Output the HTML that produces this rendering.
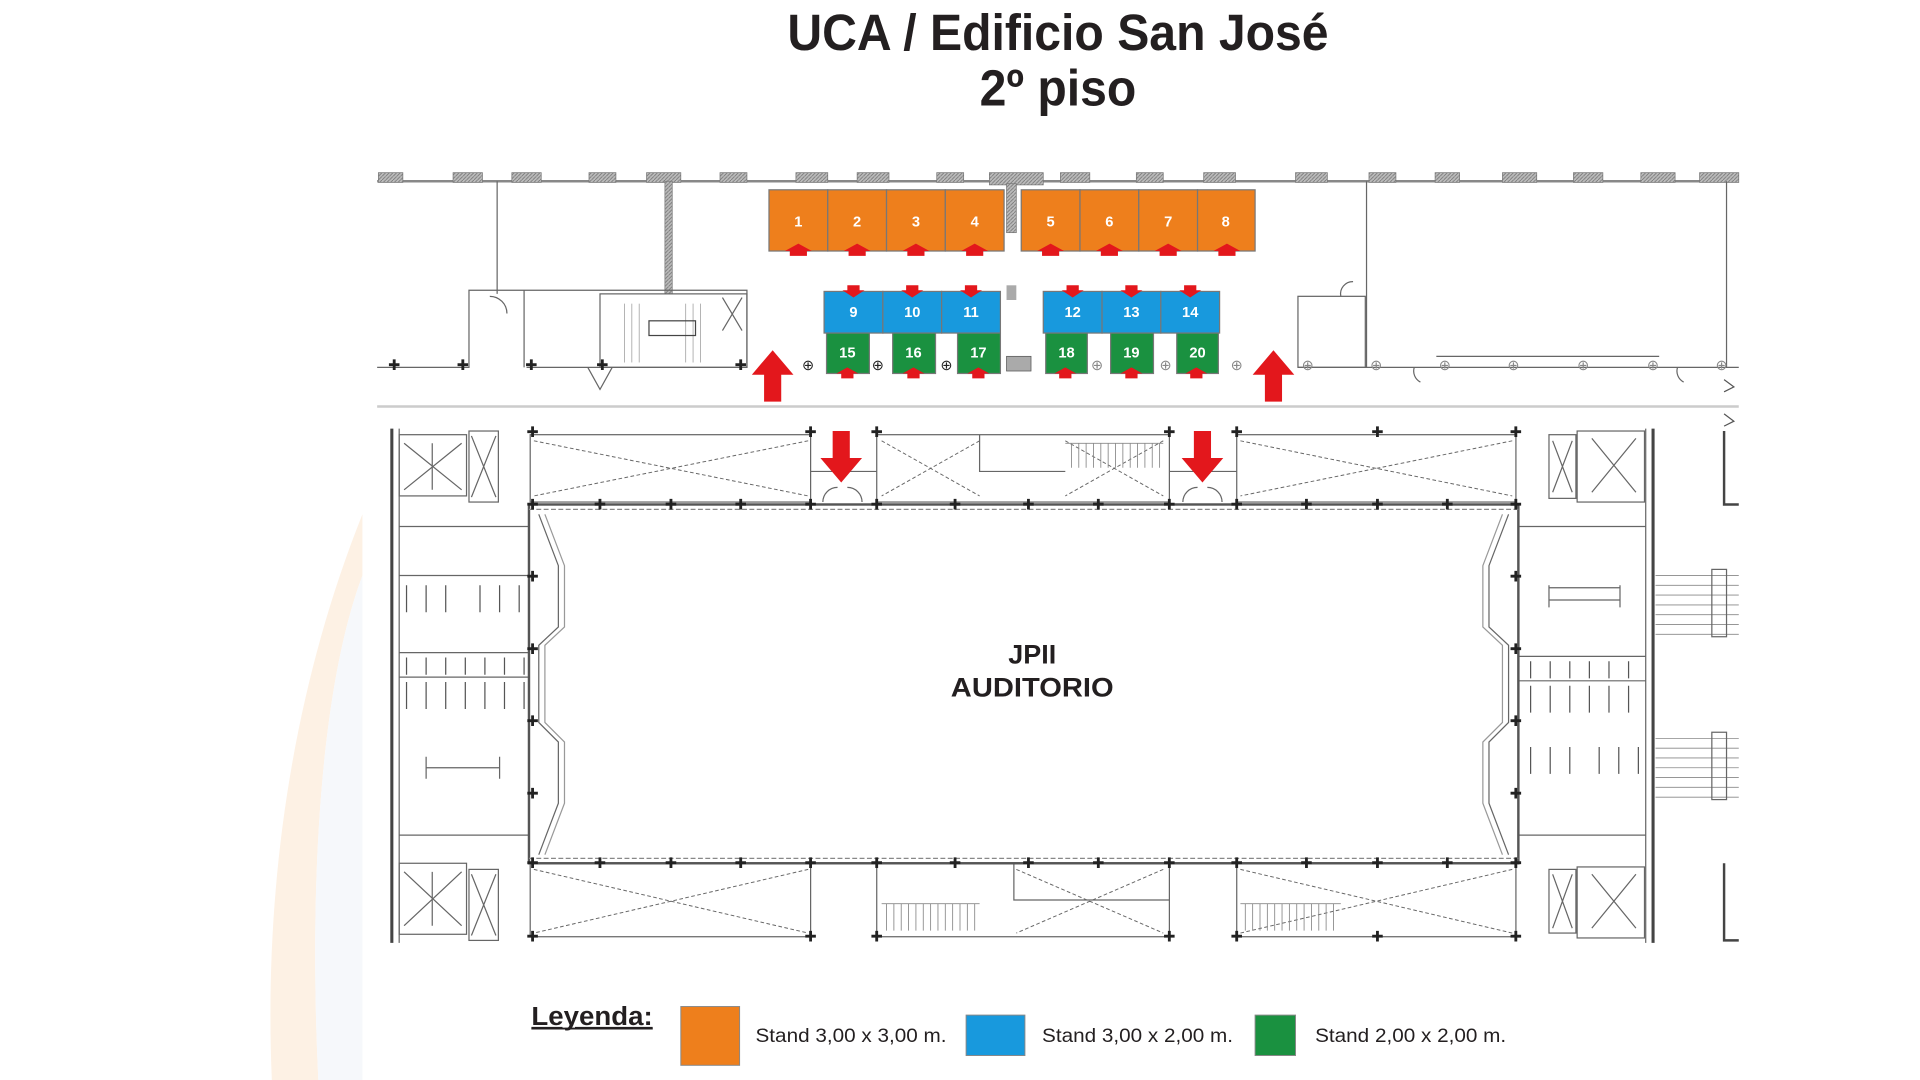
<!DOCTYPE html>
<html><head><meta charset="utf-8"><style>
html,body{margin:0;padding:0;background:#fff;}
svg{display:block}
text{font-family:"Liberation Sans",Arial,sans-serif}
</style></head><body>
<svg width="1920" height="1080" viewBox="0 0 1568 882" xmlns="http://www.w3.org/2000/svg">
<defs>
<pattern id="h" width="3" height="3" patternUnits="userSpaceOnUse"><rect width="3" height="3" fill="#bbb"/><path d="M0,3L3,0" stroke="#777" stroke-width="0.7"/></pattern>
</defs>
<rect width="1568" height="882" fill="#fff"/>
<!-- faint background arcs -->
<path d="M296,420 C240,560 215,720 222,882 L260,882 C252,720 262,560 296,470 Z" fill="#fdf1e4"/>
<path d="M296,470 C262,560 252,720 260,882 L296,882 Z" fill="#f6f8fb"/>
<rect x="296" y="0" width="1132" height="882" fill="#fff"/>

<!-- Title -->
<text x="864" y="41" font-size="42" font-weight="bold" text-anchor="middle" fill="#231f20" textLength="442" lengthAdjust="spacingAndGlyphs">UCA / Edificio San José</text>
<text x="864" y="86" font-size="42" font-weight="bold" text-anchor="middle" fill="#231f20" textLength="128" lengthAdjust="spacingAndGlyphs">2º piso</text>

<g stroke="#666" fill="none" stroke-width="1">
<!-- top wall -->
<line x1="308" y1="148" x2="1420" y2="148" stroke-width="2" stroke="#888"/>
<g fill="url(#h)" stroke="#777" stroke-width="0.6">
<rect x="309" y="141" width="20" height="8"/><rect x="370" y="141" width="24" height="8"/><rect x="418" y="141" width="24" height="8"/><rect x="481" y="141" width="22" height="8"/><rect x="528" y="141" width="28" height="8"/><rect x="588" y="141" width="22" height="8"/><rect x="650" y="141" width="26" height="8"/><rect x="700" y="141" width="26" height="8"/><rect x="765" y="141" width="22" height="8"/><rect x="808" y="141" width="44" height="10"/><rect x="866" y="141" width="24" height="8"/><rect x="928" y="141" width="22" height="8"/><rect x="983" y="141" width="26" height="8"/><rect x="1058" y="141" width="26" height="8"/><rect x="1118" y="141" width="22" height="8"/><rect x="1172" y="141" width="20" height="8"/><rect x="1227" y="141" width="28" height="8"/><rect x="1285" y="141" width="24" height="8"/><rect x="1340" y="141" width="28" height="8"/><rect x="1388" y="141" width="32" height="8"/>
<rect x="543" y="148" width="6" height="92"/><rect x="822" y="150" width="8" height="40"/>
</g>
<!-- upper left rooms -->
<line x1="406" y1="148" x2="406" y2="240"/>
<polyline points="308,300 383,300 383,237 610,237 610,300 430,300"/>
<line x1="428" y1="237" x2="428" y2="300"/>
<rect x="490" y="240" width="120" height="60"/>
<g stroke="#999" stroke-width="0.6"><line x1="510" y1="248" x2="510" y2="296"/><line x1="516" y1="248" x2="516" y2="296"/><line x1="522" y1="248" x2="522" y2="296"/><line x1="560" y1="248" x2="560" y2="296"/><line x1="566" y1="248" x2="566" y2="296"/><line x1="572" y1="248" x2="572" y2="296"/></g>
<rect x="530" y="262" width="38" height="12" stroke="#444"/>
<path d="M590,243 L606,270 M606,243 L590,270"/>
<path d="M400,242 A14,14 0 0 1 414,256"/><path d="M480,300 L490,318 L500,300"/>
<!-- upper right rooms -->
<rect x="1060" y="242" width="55" height="58"/>
<line x1="1116" y1="148" x2="1116" y2="300"/><line x1="1410" y1="148" x2="1410" y2="300"/>
<line x1="1060" y1="300" x2="1420" y2="300"/><line x1="1173" y1="291" x2="1355" y2="291"/>
<path d="M1095,242 A10,10 0 0 1 1105,230"/><path d="M1155,300 A10,10 0 0 0 1160,312"/><path d="M1370,300 A10,10 0 0 0 1375,312"/>
<!-- corridor -->
<line x1="308" y1="332" x2="1420" y2="332" stroke="#ccc" stroke-width="2"/>
<path d="M1408,310 L1416,316 L1408,320 M1408,338 L1416,344 L1408,348" stroke="#555"/>

<!-- lower left service block -->
<line x1="320" y1="350" x2="320" y2="770" stroke-width="2.5" stroke="#444"/>
<line x1="326" y1="350" x2="326" y2="770"/>
<rect x="326" y="355" width="55" height="50"/><path d="M330,362 L377,400 M377,362 L330,400 M353,362 V400"/>
<rect x="383" y="352" width="24" height="58"/><path d="M385,356 L405,406 M405,356 L385,406"/>
<rect x="326" y="705" width="55" height="58"/><path d="M330,712 L377,756 M377,712 L330,756 M353,712 V756"/>
<rect x="383" y="710" width="24" height="58"/><path d="M385,714 L405,764 M405,714 L385,764"/>
<line x1="326" y1="430" x2="432" y2="430"/><line x1="326" y1="682" x2="432" y2="682"/>
<line x1="326" y1="470" x2="432" y2="470"/><line x1="326" y1="533" x2="432" y2="533"/><line x1="326" y1="553" x2="432" y2="553"/>
<g stroke="#555"><path d="M332,478 v22 M348,478 v22 M364,478 v22 M392,478 v22 M408,478 v22 M424,478 v22 M332,537 v14 M348,537 v14 M364,537 v14 M380,537 v14 M396,537 v14 M412,537 v14 M428,537 v14 M332,557 v22 M348,557 v22 M364,557 v22 M380,557 v22 M396,557 v22 M412,557 v22 M428,557 v22"/></g>
<path d="M348,627 H408 M348,618 v18 M408,618 v18"/>
<line x1="432" y1="470" x2="432" y2="595"/>
<!-- lower right service block -->
<line x1="1350" y1="350" x2="1350" y2="770" stroke-width="2.5" stroke="#444"/>
<line x1="1344" y1="350" x2="1344" y2="770"/>
<rect x="1288" y="352" width="55" height="58"/><path d="M1300,358 L1336,402 M1336,358 L1300,402"/>
<rect x="1265" y="355" width="22" height="52"/><path d="M1268,360 L1284,402 M1284,360 L1268,402"/>
<rect x="1288" y="708" width="55" height="58"/><path d="M1300,714 L1336,758 M1336,714 L1300,758"/>
<rect x="1265" y="710" width="22" height="52"/><path d="M1268,714 L1284,758 M1284,714 L1268,758"/>
<line x1="1240" y1="430" x2="1344" y2="430"/><line x1="1240" y1="682" x2="1344" y2="682"/>
<line x1="1240" y1="536" x2="1344" y2="536"/><line x1="1240" y1="556" x2="1344" y2="556"/>
<path d="M1265,480 H1323 M1265,490 H1323 M1265,478 v18 M1323,478 v18"/>
<g stroke="#555"><path d="M1250,540 v14 M1266,540 v14 M1282,540 v14 M1298,540 v14 M1314,540 v14 M1330,540 v14 M1250,560 v22 M1266,560 v22 M1282,560 v22 M1298,560 v22 M1314,560 v22 M1330,560 v22 M1250,610 v22 M1266,610 v22 M1282,610 v22 M1306,610 v22 M1322,610 v22 M1338,610 v22"/></g>
<g stroke="#888" stroke-width="0.7"><path d="M1352,470 H1420 M1352,478 H1420 M1352,486 H1420 M1352,494 H1420 M1352,502 H1420 M1352,510 H1420 M1352,518 H1420 M1352,603 H1420 M1352,611 H1420 M1352,619 H1420 M1352,627 H1420 M1352,635 H1420 M1352,643 H1420 M1352,651 H1420"/></g>
<rect x="1398" y="465" width="12" height="55"/><rect x="1398" y="598" width="12" height="55"/>
<path d="M1408,352 V412 H1420 M1408,705 V768 H1420" stroke-width="2" stroke="#444"/>

<!-- top & bottom vestibules -->
<g>
<rect x="433" y="355" width="229" height="55"/><rect x="716" y="355" width="239" height="55"/><rect x="1010" y="355" width="228" height="55"/>
<rect x="433" y="705" width="229" height="60"/><rect x="716" y="705" width="239" height="60"/><rect x="1010" y="705" width="228" height="60"/>
</g>
<g stroke="#666" stroke-dasharray="3,2" stroke-width="0.8">
<path d="M436,360 L660,405 M660,360 L436,405 M720,360 L800,405 M800,360 L720,405 M870,360 L950,405 M950,360 L870,405 M1013,360 L1235,405 M1235,360 L1013,405"/>
<path d="M436,710 L660,762 M660,710 L436,762 M830,710 L950,762 M950,710 L830,762 M1013,710 L1235,762 M1235,710 L1013,762"/>
</g>
<g stroke="#888" stroke-width="0.7"><path d="M870,362 H950 M875,362 v20 M881,362 v20 M887,362 v20 M893,362 v20 M899,362 v20 M905,362 v20 M911,362 v20 M917,362 v20 M923,362 v20 M929,362 v20 M935,362 v20 M941,362 v20 M947,362 v20"/>
<path d="M720,738 H800 M724,738 v22 M730,738 v22 M736,738 v22 M742,738 v22 M748,738 v22 M754,738 v22 M760,738 v22 M766,738 v22 M772,738 v22 M778,738 v22 M784,738 v22 M790,738 v22 M796,738 v22"/>
<path d="M1013,738 H1095 M1017,738 v22 M1023,738 v22 M1029,738 v22 M1035,738 v22 M1041,738 v22 M1047,738 v22 M1053,738 v22 M1059,738 v22 M1065,738 v22 M1071,738 v22 M1077,738 v22 M1083,738 v22 M1089,738 v22"/></g>
<path d="M800,355 V385 H870 M716,385 H662 M955,385 H1010 M828,705 V735 H955"/>
<path d="M672,410 A12,12 0 0 1 684,398 M704,410 A12,12 0 0 0 692,398 M966,410 A12,12 0 0 1 978,398 M998,410 A12,12 0 0 0 986,398"/>

<!-- auditorium -->
<rect x="432" y="412" width="808" height="293" stroke-width="2" stroke="#555"/>
<line x1="432" y1="416" x2="1240" y2="416" stroke-dasharray="4,2" stroke="#888"/>
<line x1="432" y1="701" x2="1240" y2="701" stroke-dasharray="4,2" stroke="#888"/>
<polyline points="440,420 456,462 456,512 440,527 440,590 456,606 456,656 440,698"/>
<polyline points="445,420 461,462 461,512 445,527 445,590 461,606 461,656 445,698" stroke="#999"/>
<polyline points="1232,420 1216,462 1216,512 1232,527 1232,590 1216,606 1216,656 1232,698"/>
<polyline points="1227,420 1211,462 1211,512 1227,527 1227,590 1211,606 1211,656 1227,698" stroke="#999"/>
</g>
<!-- column markers -->
<g fill="#222" font-size="12" text-anchor="middle">
<text x="435" y="357">✚</text><text x="662" y="357">✚</text><text x="716" y="357">✚</text><text x="955" y="357">✚</text><text x="1010" y="357">✚</text><text x="1125" y="357">✚</text><text x="1238" y="357">✚</text>
<text x="435" y="416">✚</text><text x="490" y="416">✚</text><text x="548" y="416">✚</text><text x="605" y="416">✚</text><text x="662" y="416">✚</text><text x="716" y="416">✚</text><text x="780" y="416">✚</text><text x="840" y="416">✚</text><text x="897" y="416">✚</text><text x="955" y="416">✚</text><text x="1010" y="416">✚</text><text x="1067" y="416">✚</text><text x="1125" y="416">✚</text><text x="1182" y="416">✚</text><text x="1238" y="416">✚</text>
<text x="435" y="709">✚</text><text x="490" y="709">✚</text><text x="548" y="709">✚</text><text x="605" y="709">✚</text><text x="662" y="709">✚</text><text x="716" y="709">✚</text><text x="780" y="709">✚</text><text x="840" y="709">✚</text><text x="897" y="709">✚</text><text x="955" y="709">✚</text><text x="1010" y="709">✚</text><text x="1067" y="709">✚</text><text x="1125" y="709">✚</text><text x="1182" y="709">✚</text><text x="1238" y="709">✚</text>
<text x="435" y="769">✚</text><text x="662" y="769">✚</text><text x="716" y="769">✚</text><text x="955" y="769">✚</text><text x="1010" y="769">✚</text><text x="1125" y="769">✚</text><text x="1238" y="769">✚</text>
<text x="435" y="475">✚</text><text x="435" y="593">✚</text><text x="435" y="652">✚</text><text x="435" y="534">✚</text>
<text x="1238" y="475">✚</text><text x="1238" y="593">✚</text><text x="1238" y="652">✚</text><text x="1238" y="534">✚</text>
<text x="322" y="302">✚</text><text x="378" y="302">✚</text><text x="434" y="302">✚</text><text x="492" y="302">✚</text><text x="605" y="302">✚</text>
<text x="660" y="302">⊕</text><text x="717" y="302">⊕</text><text x="773" y="302">⊕</text><text x="896" y="302" fill="#888">⊕</text><text x="952" y="302" fill="#888">⊕</text><text x="1010" y="302" fill="#888">⊕</text>
<text x="1068" y="302" fill="#888">⊕</text><text x="1124" y="302" fill="#888">⊕</text><text x="1180" y="302" fill="#888">⊕</text><text x="1236" y="302" fill="#888">⊕</text><text x="1293" y="302" fill="#888">⊕</text><text x="1350" y="302" fill="#888">⊕</text><text x="1406" y="302" fill="#888">⊕</text>
</g>
<rect x="822" y="291" width="20" height="12" fill="#aaa" stroke="#555" stroke-width="0.6"/>
<rect x="822" y="233" width="8" height="12" fill="#aaa"/>

<!-- stands -->
<g stroke="#777" stroke-width="1">
<g fill="#ee7f1c"><rect x="628" y="155" width="48" height="50"/><rect x="676" y="155" width="48" height="50"/><rect x="724" y="155" width="48" height="50"/><rect x="772" y="155" width="48" height="50"/><rect x="834" y="155" width="48" height="50"/><rect x="882" y="155" width="48" height="50"/><rect x="930" y="155" width="48" height="50"/><rect x="978" y="155" width="47" height="50"/></g>
<g fill="#1899dd"><rect x="673" y="238" width="48" height="34"/><rect x="721" y="238" width="48" height="34"/><rect x="769" y="238" width="48" height="34"/><rect x="852" y="238" width="48" height="34"/><rect x="900" y="238" width="48" height="34"/><rect x="948" y="238" width="48" height="34"/></g>
<g fill="#1a9140"><rect x="675" y="272" width="35" height="33"/><rect x="729" y="272" width="35" height="33"/><rect x="782" y="272" width="35" height="33"/><rect x="854" y="272" width="34" height="33"/><rect x="907" y="272" width="35" height="33"/><rect x="961" y="272" width="34" height="33"/></g>
</g>
<g fill="#e3171c">
<!-- small up arrows under orange -->
<path d="M645,209 v-4 h-4 l11,-6 l11,6 h-4 v4 z"/><path d="M693,209 v-4 h-4 l11,-6 l11,6 h-4 v4 z"/><path d="M741,209 v-4 h-4 l11,-6 l11,6 h-4 v4 z"/><path d="M789,209 v-4 h-4 l11,-6 l11,6 h-4 v4 z"/>
<path d="M851,209 v-4 h-4 l11,-6 l11,6 h-4 v4 z"/><path d="M899,209 v-4 h-4 l11,-6 l11,6 h-4 v4 z"/><path d="M947,209 v-4 h-4 l11,-6 l11,6 h-4 v4 z"/><path d="M995,209 v-4 h-4 l11,-6 l11,6 h-4 v4 z"/>
<!-- small down arrows above blue -->
<path d="M692,233 h10 v4 h4 l-9,6 l-9,-6 h4 z"/><path d="M740,233 h10 v4 h4 l-9,6 l-9,-6 h4 z"/><path d="M788,233 h10 v4 h4 l-9,6 l-9,-6 h4 z"/><path d="M871,233 h10 v4 h4 l-9,6 l-9,-6 h4 z"/><path d="M919,233 h10 v4 h4 l-9,6 l-9,-6 h4 z"/><path d="M967,233 h10 v4 h4 l-9,6 l-9,-6 h4 z"/>
<!-- small up arrows under green -->
<path d="M687,309 v-4 h-4 l9,-5 l9,5 h-4 v4 z"/><path d="M741,309 v-4 h-4 l9,-5 l9,5 h-4 v4 z"/><path d="M794,309 v-4 h-4 l9,-5 l9,5 h-4 v4 z"/><path d="M865,309 v-4 h-4 l9,-5 l9,5 h-4 v4 z"/><path d="M919,309 v-4 h-4 l9,-5 l9,5 h-4 v4 z"/><path d="M972,309 v-4 h-4 l9,-5 l9,5 h-4 v4 z"/>
<!-- big arrows -->
<path d="M624,328 v-22 h-10 l17,-20 l17,20 h-10 v22 z"/>
<path d="M1033,328 v-22 h-10 l17,-20 l17,20 h-10 v22 z"/>
<path d="M680,352 h14 v22 h10 l-17,20 l-17,-20 h10 z"/>
<path d="M975,352 h14 v22 h10 l-17,20 l-17,-20 h10 z"/>
</g>
<g fill="#fff" font-size="12" font-weight="bold" text-anchor="middle">
<text x="652" y="185">1</text><text x="700" y="185">2</text><text x="748" y="185">3</text><text x="796" y="185">4</text><text x="858" y="185">5</text><text x="906" y="185">6</text><text x="954" y="185">7</text><text x="1001" y="185">8</text>
<text x="697" y="259">9</text><text x="745" y="259">10</text><text x="793" y="259">11</text><text x="876" y="259">12</text><text x="924" y="259">13</text><text x="972" y="259">14</text>
<text x="692" y="292">15</text><text x="746" y="292">16</text><text x="799" y="292">17</text><text x="871" y="292">18</text><text x="924" y="292">19</text><text x="978" y="292">20</text>
</g>

<text x="843" y="542" font-size="22" font-weight="bold" text-anchor="middle" fill="#231f20">JPII</text>
<text x="843" y="569" font-size="22" font-weight="bold" text-anchor="middle" fill="#231f20" textLength="133" lengthAdjust="spacingAndGlyphs">AUDITORIO</text>

<!-- legend -->
<text x="434" y="837" font-size="21" font-weight="bold" fill="#231f20" text-decoration="underline" textLength="99" lengthAdjust="spacingAndGlyphs">Leyenda:</text>
<line x1="434" y1="840" x2="533" y2="840" stroke="#231f20" stroke-width="1.5"/>
<rect x="556" y="822" width="48" height="48" fill="#ee7f1c" stroke="#888" stroke-width="0.8"/>
<text x="617" y="851" font-size="16" fill="#231f20" textLength="156" lengthAdjust="spacingAndGlyphs">Stand 3,00 x 3,00 m.</text>
<rect x="789" y="829" width="48" height="33" fill="#1899dd" stroke="#888" stroke-width="0.8"/>
<text x="851" y="851" font-size="16" fill="#231f20" textLength="156" lengthAdjust="spacingAndGlyphs">Stand 3,00 x 2,00 m.</text>
<rect x="1025" y="829" width="33" height="33" fill="#1a9140" stroke="#888" stroke-width="0.8"/>
<text x="1074" y="851" font-size="16" fill="#231f20" textLength="156" lengthAdjust="spacingAndGlyphs">Stand 2,00 x 2,00 m.</text>
</svg>
</body></html>
